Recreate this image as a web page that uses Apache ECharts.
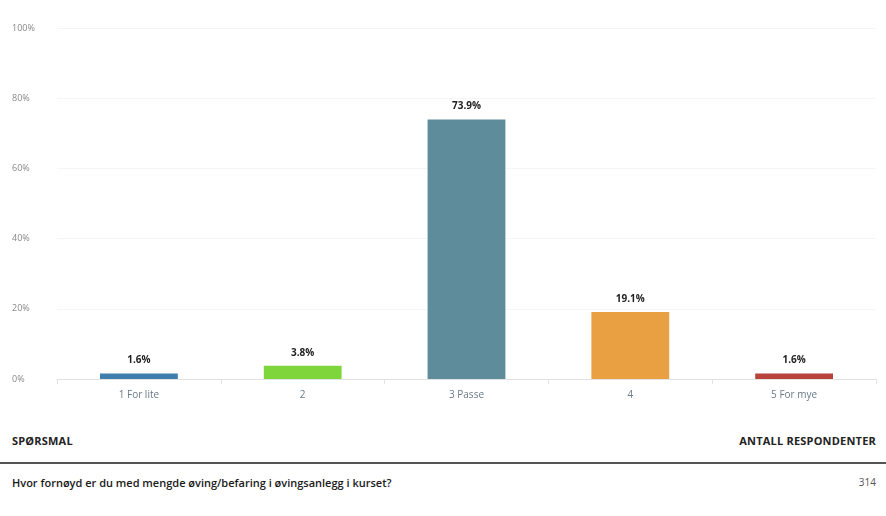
<!DOCTYPE html>
<html><head><meta charset="utf-8">
<script src="https://cdn.jsdelivr.net/npm/echarts@6/dist/echarts.min.js"></script>
<style>
html,body{margin:0;padding:0;background:#fff;font-family:"Open Sans","Liberation Sans",sans-serif;}
#chart{position:absolute;left:0;top:0;width:886px;height:420px;}
.hdr{position:absolute;top:433px;font-size:11px;font-weight:bold;color:#222;letter-spacing:0.2px;}
.row{position:absolute;top:475px;font-size:11px;color:#1a1a1a;font-weight:600;}
#line{position:absolute;left:0;top:462px;width:886px;height:2px;background:#555;}
</style></head><body>
<div id="chart"></div>
<div class="hdr" style="left:12px;">SPØRSMAL</div>
<div class="hdr" style="right:10px;">ANTALL RESPONDENTER</div>
<div id="line"></div>
<div class="row" style="left:12px;">Hvor fornøyd er du med mengde øving/befaring i øvingsanlegg i kurset?</div>
<div class="row" style="right:10px;color:#555;font-size:10px;font-weight:normal;">314</div>
<script>
const categories = ["1 For lite", "2", "3 Passe", "4", "5 For mye"];
const values = [1.6, 3.8, 73.9, 19.1, 1.6];
const colors = ["#3f7fae", "#7ed63c", "#5f8c9b", "#e9a043", "#b8423c"];
const yTicks = [0, 20, 40, 60, 80, 100];

const chart = echarts.init(document.getElementById('chart'));
chart.setOption({
  animation: false,
  grid: {left: 57, right: 10, top: 28, bottom: 41},
  xAxis: {
    type: 'category', data: categories,
    axisLine: {lineStyle: {color: '#e2e2e2'}},
    axisTick: {show: true, length: 5, lineStyle: {color: '#e2e2e2'}},
    axisLabel: {color: '#6a7a86', fontSize: 10, margin: 11, fontFamily: 'Open Sans'}
  },
  yAxis: {
    type: 'value', min: 0, max: 100, interval: 20,
    axisLabel: {formatter: v => yTicks.includes(v) ? v + '%' : '', color: '#888', fontSize: 9, align: 'left', margin: 45, fontFamily: 'Open Sans'},
    splitLine: {lineStyle: {color: '#f5f5f5'}},
    axisLine: {show: false}, axisTick: {show: false}
  },
  series: [{
    type: 'bar', barWidth: '47.5%',
    data: values.map((v, i) => ({value: v, itemStyle: {color: colors[i]}})),
    label: {show: true, position: 'top', formatter: p => p.value.toFixed(1) + '%', color: '#222', fontWeight: 'bold', fontSize: 10, distance: 8, fontFamily: 'Open Sans'}
  }]
});
</script>
</body></html>
